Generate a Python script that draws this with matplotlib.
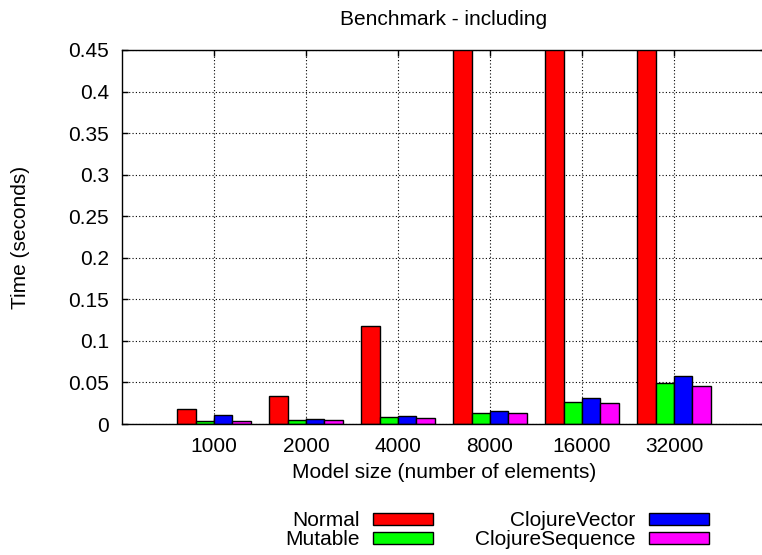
import matplotlib
matplotlib.use("Agg")
from matplotlib import pyplot as plt
import numpy as np

plt.rcParams['font.family'] = ['Liberation Sans', 'DejaVu Sans']
plt.rcParams['font.size'] = 15

sizes = ['1000', '2000', '4000', '8000', '16000', '32000']
series = ['Normal', 'Mutable', 'ClojureVector', 'ClojureSequence']
normal = [0.0177, 0.0333, 0.1175, 0.62, 2.4, 9.5]   # last three run off the top
mutable = [0.0036, 0.0048, 0.0080, 0.0136, 0.0260, 0.0490]
cl_vector = [0.0104, 0.0060, 0.0093, 0.0160, 0.0310, 0.0578]
cl_sequence = [0.0040, 0.0048, 0.0075, 0.0130, 0.0250, 0.0460]
colors = ['#ff0000', '#00ff00', '#0000ff', '#ff00ff']

fig = plt.figure(figsize=(7.62, 5.55), dpi=100)
# plot area runs a little past the right edge of the picture
ax = fig.add_axes([122/762, 131/555, 644/762, 374/555])

x = np.arange(len(sizes))
w = 0.2
for i, (vals, name, col) in enumerate(zip([normal, mutable, cl_vector, cl_sequence], series, colors)):
    ax.bar(x + (i - 1.5)*w, vals, w, color=col, edgecolor='black', linewidth=1,
           label=name, zorder=2)

ax.set_xlim(-1, 6)
ax.set_ylim(0, 0.45)
ax.set_xticks(x)
ax.set_xticklabels(sizes)
ax.set_yticks(np.arange(0, 0.451, 0.05))
ax.set_yticklabels(['0', '0.05', '0.1', '0.15', '0.2', '0.25', '0.3', '0.35', '0.4', '0.45'])
ax.tick_params(direction='in', length=4, width=1, pad=9.5, top=True, right=True, labelsize=15)
ax.grid(True, linestyle=(0, (1, 2)), color='black', linewidth=0.8, zorder=0)
ax.set_axisbelow(True)
for s in ax.spines.values():
    s.set_linewidth(1)

fig.text(444/762, 1 - 25/555, 'Benchmark - including', ha='center', va='baseline')
fig.text(444/762, 1 - 478/555, 'Model size (number of elements)', ha='center', va='baseline')
fig.text(21/762, 1 - 237/555, 'Time (seconds)', ha='center', va='center', rotation=90)

fig.legend(loc='center', bbox_to_anchor=(497/762, 1 - 530/555), ncol=2, frameon=False,
           markerfirst=False, handlelength=2.88, handleheight=0.5, handletextpad=0.66,
           columnspacing=1.97, labelspacing=0.0, borderpad=0)

fig.savefig('out.png', dpi=100)
